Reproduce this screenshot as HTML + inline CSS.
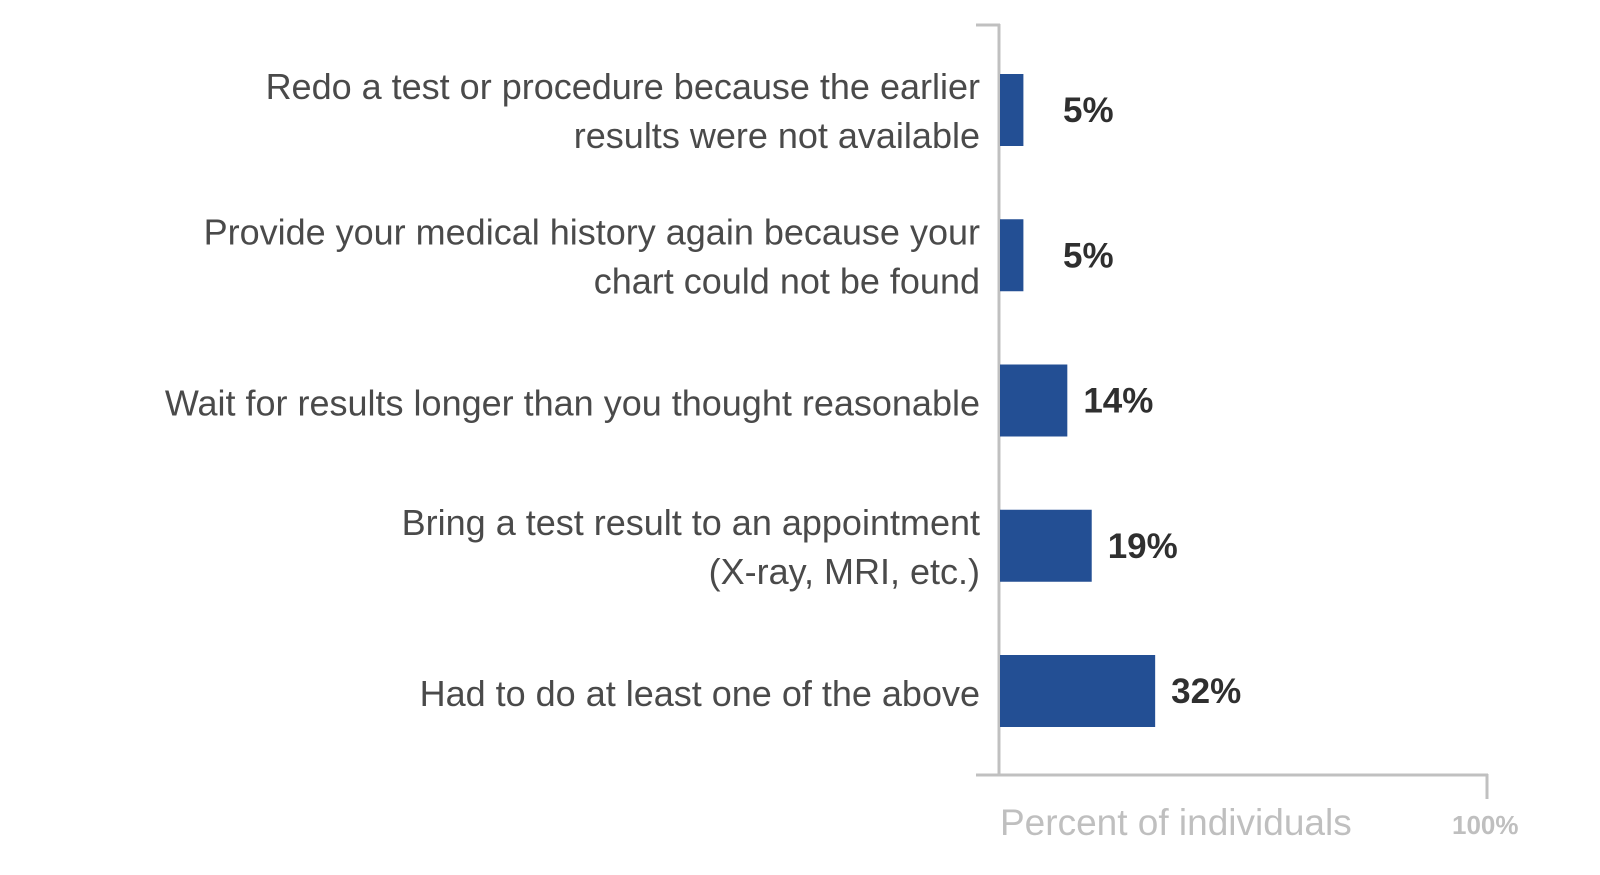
<!DOCTYPE html>
<html><head><meta charset="utf-8"><style>
html,body{margin:0;padding:0;background:#fff;}
svg{display:block;}
</style></head><body>
<svg id="chart" width="1600" height="875" viewBox="0 0 1600 875" xmlns="http://www.w3.org/2000/svg">
<g id="axes">
  <line x1="976" y1="25" x2="1000" y2="25" stroke="#c0c0c0" stroke-width="3"/>
  <line x1="999" y1="24" x2="999" y2="776" stroke="#c0c0c0" stroke-width="3"/>
  <line x1="976" y1="775" x2="1488" y2="775" stroke="#c0c0c0" stroke-width="3"/>
  <line x1="1487" y1="774" x2="1487" y2="799" stroke="#c0c0c0" stroke-width="3"/>
  <text x="1000" y="835" font-family="Liberation Sans, sans-serif" font-size="37" fill="#bfbfbf">Percent of individuals</text>
  <text x="1452" y="834" font-family="Liberation Sans, sans-serif" font-size="26" font-weight="bold" fill="#bfbfbf">100%</text>
</g>
<g id="bars"></g>
</svg>
<script>
const categories = [
  ["Redo a test or procedure because the earlier", "results were not available"],
  ["Provide your medical history again because your", "chart could not be found"],
  ["Wait for results longer than you thought reasonable"],
  ["Bring a test result to an appointment", "(X-ray, MRI, etc.)"],
  ["Had to do at least one of the above"]
];
const values = [5, 5, 14, 19, 32];
const valueLabels = ["5%", "5%", "14%", "19%", "32%"];

const NS = "http://www.w3.org/2000/svg";
const x0 = 999, xMax = 1487;
function xScale(v){ return x0 + (v/100)*(xMax-x0); }
const firstCenter = 110, lastCenter = 691;
function yCenter(i){ return firstCenter + i*(lastCenter-firstCenter)/(categories.length-1); }
const barH = 72;
const g = document.getElementById('bars');
categories.forEach((lines, i) => {
  const c = yCenter(i);
  const r = document.createElementNS(NS, 'rect');
  r.setAttribute('x', x0 + 1);
  r.setAttribute('y', c - barH/2);
  r.setAttribute('width', xScale(values[i]) - x0 - 1);
  r.setAttribute('height', barH);
  r.setAttribute('fill', '#234f94');
  
  
  g.appendChild(r);

  const vt = document.createElementNS(NS, 'text');
  vt.setAttribute('x', Math.max(xScale(values[i]) + 16, 1063));
  vt.setAttribute('y', c + 12);
  vt.setAttribute('font-family', 'Liberation Sans, sans-serif');
  vt.setAttribute('font-size', '35');
  vt.setAttribute('font-weight', 'bold');
  vt.setAttribute('fill', '#2f2f2f');
  vt.textContent = valueLabels[i];
  
  
  g.appendChild(vt);

  const offsets = lines.length === 2 ? [-11, 38] : [15];
  lines.forEach((ln, j) => {
    const t = document.createElementNS(NS, 'text');
    t.setAttribute('x', 980);
    t.setAttribute('y', c + offsets[j]);
    t.setAttribute('text-anchor', 'end');
    t.setAttribute('font-family', 'Liberation Sans, sans-serif');
    t.setAttribute('font-size', '36');
    t.setAttribute('fill', '#4a4a4a');
    t.textContent = ln;
    
    
    g.appendChild(t);
  });
});
</script>
</body></html>
